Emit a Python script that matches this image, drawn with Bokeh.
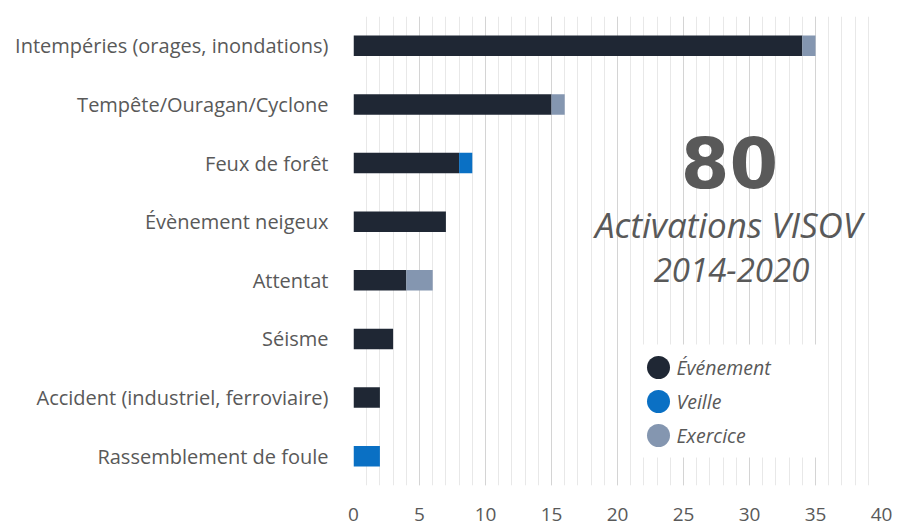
from bokeh.plotting import figure
from bokeh.models import (ColumnDataSource, FactorRange, Range1d, SingleIntervalTicker,
                          FixedTicker)
from bokeh.core.properties import value
from bokeh.embed import file_html
from bokeh.resources import INLINE

# ---- data ----
categories = [
    "Intempéries (orages, inondations)",
    "Tempête/Ouragan/Cyclone",
    "Feux de forêt",
    "Évènement neigeux",
    "Attentat",
    "Séisme",
    "Accident (industriel, ferroviaire)",
    "Rassemblement de foule",
]
evenement = [34, 15, 8, 7, 4, 3, 2, 0]
veille = [0, 0, 1, 0, 0, 0, 0, 2]
exercice = [1, 1, 0, 0, 2, 0, 0, 0]
series_names = ["Événement", "Veille", "Exercice"]
series_colors = ["#1f2734", "#0a70c4", "#8496b0"]
x_ticks = [0, 5, 10, 15, 20, 25, 30, 35, 40]
total_label = "80"
subtitle_lines = ["Activations VISOV", "2014-2020"]

FONT = "Open Sans"
GREY = "#595959"

source = ColumnDataSource(dict(cat=categories, ev=evenement, ve=veille, ex=exercice))

# layout (pixels)
W, H = 897, 525
L, R, T, B = 353, 16, 16, 40
FW = W - L - R
FH = H - T - B

p = figure(width=W, height=H, output_backend="svg", toolbar_location=None,
           y_range=FactorRange(factors=list(reversed(categories)), range_padding=0),
           x_range=Range1d(0, 40),
           min_border_left=L, min_border_right=R, min_border_top=T, min_border_bottom=B)
p.outline_line_color = None
p.background_fill_color = "white"

p.hbar_stack(["ev", "ve", "ex"], y="cat", height=0.35, color=series_colors,
             source=source, line_color=None)

# axes
p.xaxis.ticker = FixedTicker(ticks=x_ticks)
p.xaxis.axis_line_color = None
p.xaxis.major_tick_line_color = None
p.xaxis.minor_tick_line_color = None
p.xaxis.major_label_text_font = FONT
p.xaxis.major_label_text_font_size = "19px"
p.xaxis.major_label_text_color = GREY
p.xaxis.major_label_standoff = 16

p.yaxis.axis_line_color = None
p.yaxis.major_tick_line_color = None
p.yaxis.minor_tick_line_color = None
p.yaxis.major_label_text_font = FONT
p.yaxis.major_label_text_font_size = "20px"
p.yaxis.major_label_text_color = GREY
p.yaxis.major_label_standoff = 19

p.ygrid.grid_line_color = None
p.xgrid.ticker = SingleIntervalTicker(interval=5, num_minor_ticks=5)
p.xgrid.grid_line_color = "#d4d4d4"
p.xgrid.minor_grid_line_color = "#e8e8e8"

# pixel -> data helpers for decorations
def px2x(px):
    return (px - L) / FW * 40.0

def px2y(py):
    return (T + FH - py) / FH * len(categories)

# legend box (white, hides grid)
p.quad(left=[px2x(642)], right=[px2x(822)], top=[px2y(344)], bottom=[px2y(457)],
       fill_color="white", line_color=None)

leg_y = [367, 401, 435]
p.scatter(x=[px2x(658)] * 3, y=[px2y(v) for v in leg_y], size=23,
          color=series_colors, line_color=None)
p.text(x=[px2x(676)] * 3, y=[px2y(v) for v in leg_y], text=series_names,
       text_font=value(FONT), text_font_style="italic", text_font_size="19.5px",
       text_color=GREY, text_baseline="middle", text_align="left")

# big number + subtitle
p.text(x=[px2x(729)], y=[px2y(162)], text=[total_label], text_font=value("DejaVu Sans"),
       text_font_style="bold", text_font_size="70px", text_color=GREY,
       text_align="center", text_baseline="alphabetic")
p.text(x=[px2x(728)], y=[px2y(224)], text=[subtitle_lines[0]], text_font=value(FONT),
       text_font_style="italic", text_font_size="35px", text_color=GREY,
       text_align="center", text_baseline="alphabetic")
p.text(x=[px2x(731)], y=[px2y(269)], text=[subtitle_lines[1]], text_font=value(FONT),
       text_font_style="italic", text_font_size="33px", text_color=GREY,
       text_align="center", text_baseline="alphabetic")

open("out.html", "w").write(file_html(p, INLINE))
